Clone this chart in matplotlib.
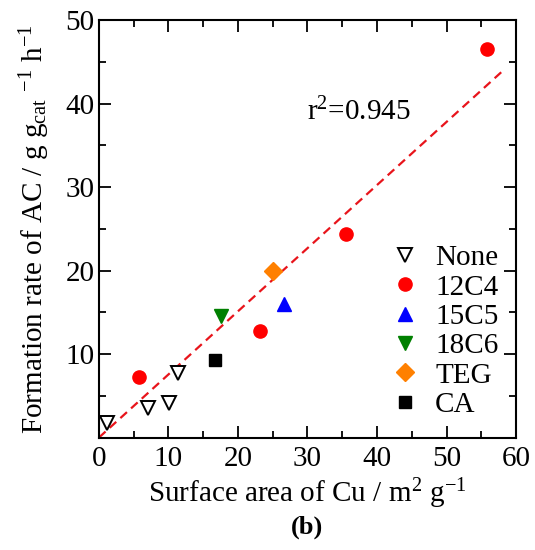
import numpy as np
import matplotlib
matplotlib.use('Agg')
import matplotlib.pyplot as plt
from matplotlib.ticker import MultipleLocator

plt.rcParams['font.family'] = ['Liberation Serif', 'DejaVu Serif']
plt.rcParams['mathtext.fontset'] = 'custom'
plt.rcParams['mathtext.rm'] = 'Liberation Serif'
plt.rcParams['mathtext.it'] = 'Liberation Serif:italic'

# data
none_x = [1.1, 7.1, 10.1, 11.4]
none_y = [1.7, 3.5, 4.1, 7.7]
c4_x = [5.8, 23.1, 35.5, 55.8]
c4_y = [7.2, 12.7, 24.4, 46.5]
c5_x = [26.6]
c5_y = [16.0]
c6_x = [17.6]
c6_y = [14.6]
teg_x = [25.1]
teg_y = [19.9]
ca_x = [16.7]
ca_y = [9.3]

fit_slope = 0.756
fit_xmax = 58.4
r2 = 0.945

fs = 21

fig = plt.figure(figsize=(5.35, 5.5), dpi=100)
ax = fig.add_axes([0.185, 0.2045, 0.7795, 0.759])

fx = np.array([0, fit_xmax])
ax.plot(fx, fit_slope * fx, ls=(0, (4, 2.5)), color='#e8141b', lw=1.6, zorder=1)

ax.plot(none_x, none_y, 'v', ms=9.5, mfc='white', mec='black', mew=1.4, ls='none', label='None', zorder=3)
ax.plot(c4_x, c4_y, 'o', ms=9.5, color='#ff0000', ls='none', label='12C4', zorder=3)
ax.plot(c5_x, c5_y, '^', ms=10.5, color='#0000ff', ls='none', label='15C5', zorder=3)
ax.plot(c6_x, c6_y, 'v', ms=10.5, color='#008000', ls='none', label='18C6', zorder=3)
ax.plot(teg_x, teg_y, 'D', ms=9.5, color='#ff8000', ls='none', label='TEG', zorder=3)
ax.plot(ca_x, ca_y, 's', ms=8.5, color='black', ls='none', label='CA', zorder=3)

ax.set_xlim(0, 60)
ax.set_ylim(0, 50)
ax.xaxis.set_minor_locator(MultipleLocator(5))
ax.yaxis.set_minor_locator(MultipleLocator(5))
ax.set_yticks([10, 20, 30, 40, 50])
ax.set_xticks([0, 10, 20, 30, 40, 50, 60])

ax.tick_params(which='both', direction='in', top=True, right=True, width=1.3, labelsize=fs)
ax.tick_params(which='major', length=8.5)
ax.tick_params(axis='y', which='major', pad=3)
ax.tick_params(axis='x', which='major', pad=6)
ax.tick_params(which='minor', length=5)
for s in ax.spines.values():
    s.set_linewidth(1.5)

ax.set_xlabel(r'Surface area of Cu / m$^{2}$ g$^{-1}$', fontsize=fs, labelpad=3)
ax.set_ylabel(r'Formation rate of AC / g g$_{\rm cat}$ $^{-1}$ h$^{-1}$', fontsize=fs, labelpad=10)

ax.text(0.5, 0.76, r'r$^{2}$=%.3f' % r2, transform=ax.transAxes, fontsize=fs)

ax.legend(loc='lower right', bbox_to_anchor=(1.0, 0.005), frameon=False, fontsize=fs,
          handletextpad=0.55, labelspacing=0.1, handlelength=1.0, borderaxespad=0.2)

fig.text(0.574, 0.03, '(b)', fontsize=19, fontweight='bold', ha='center')

fig.savefig('out.png', dpi=100)
